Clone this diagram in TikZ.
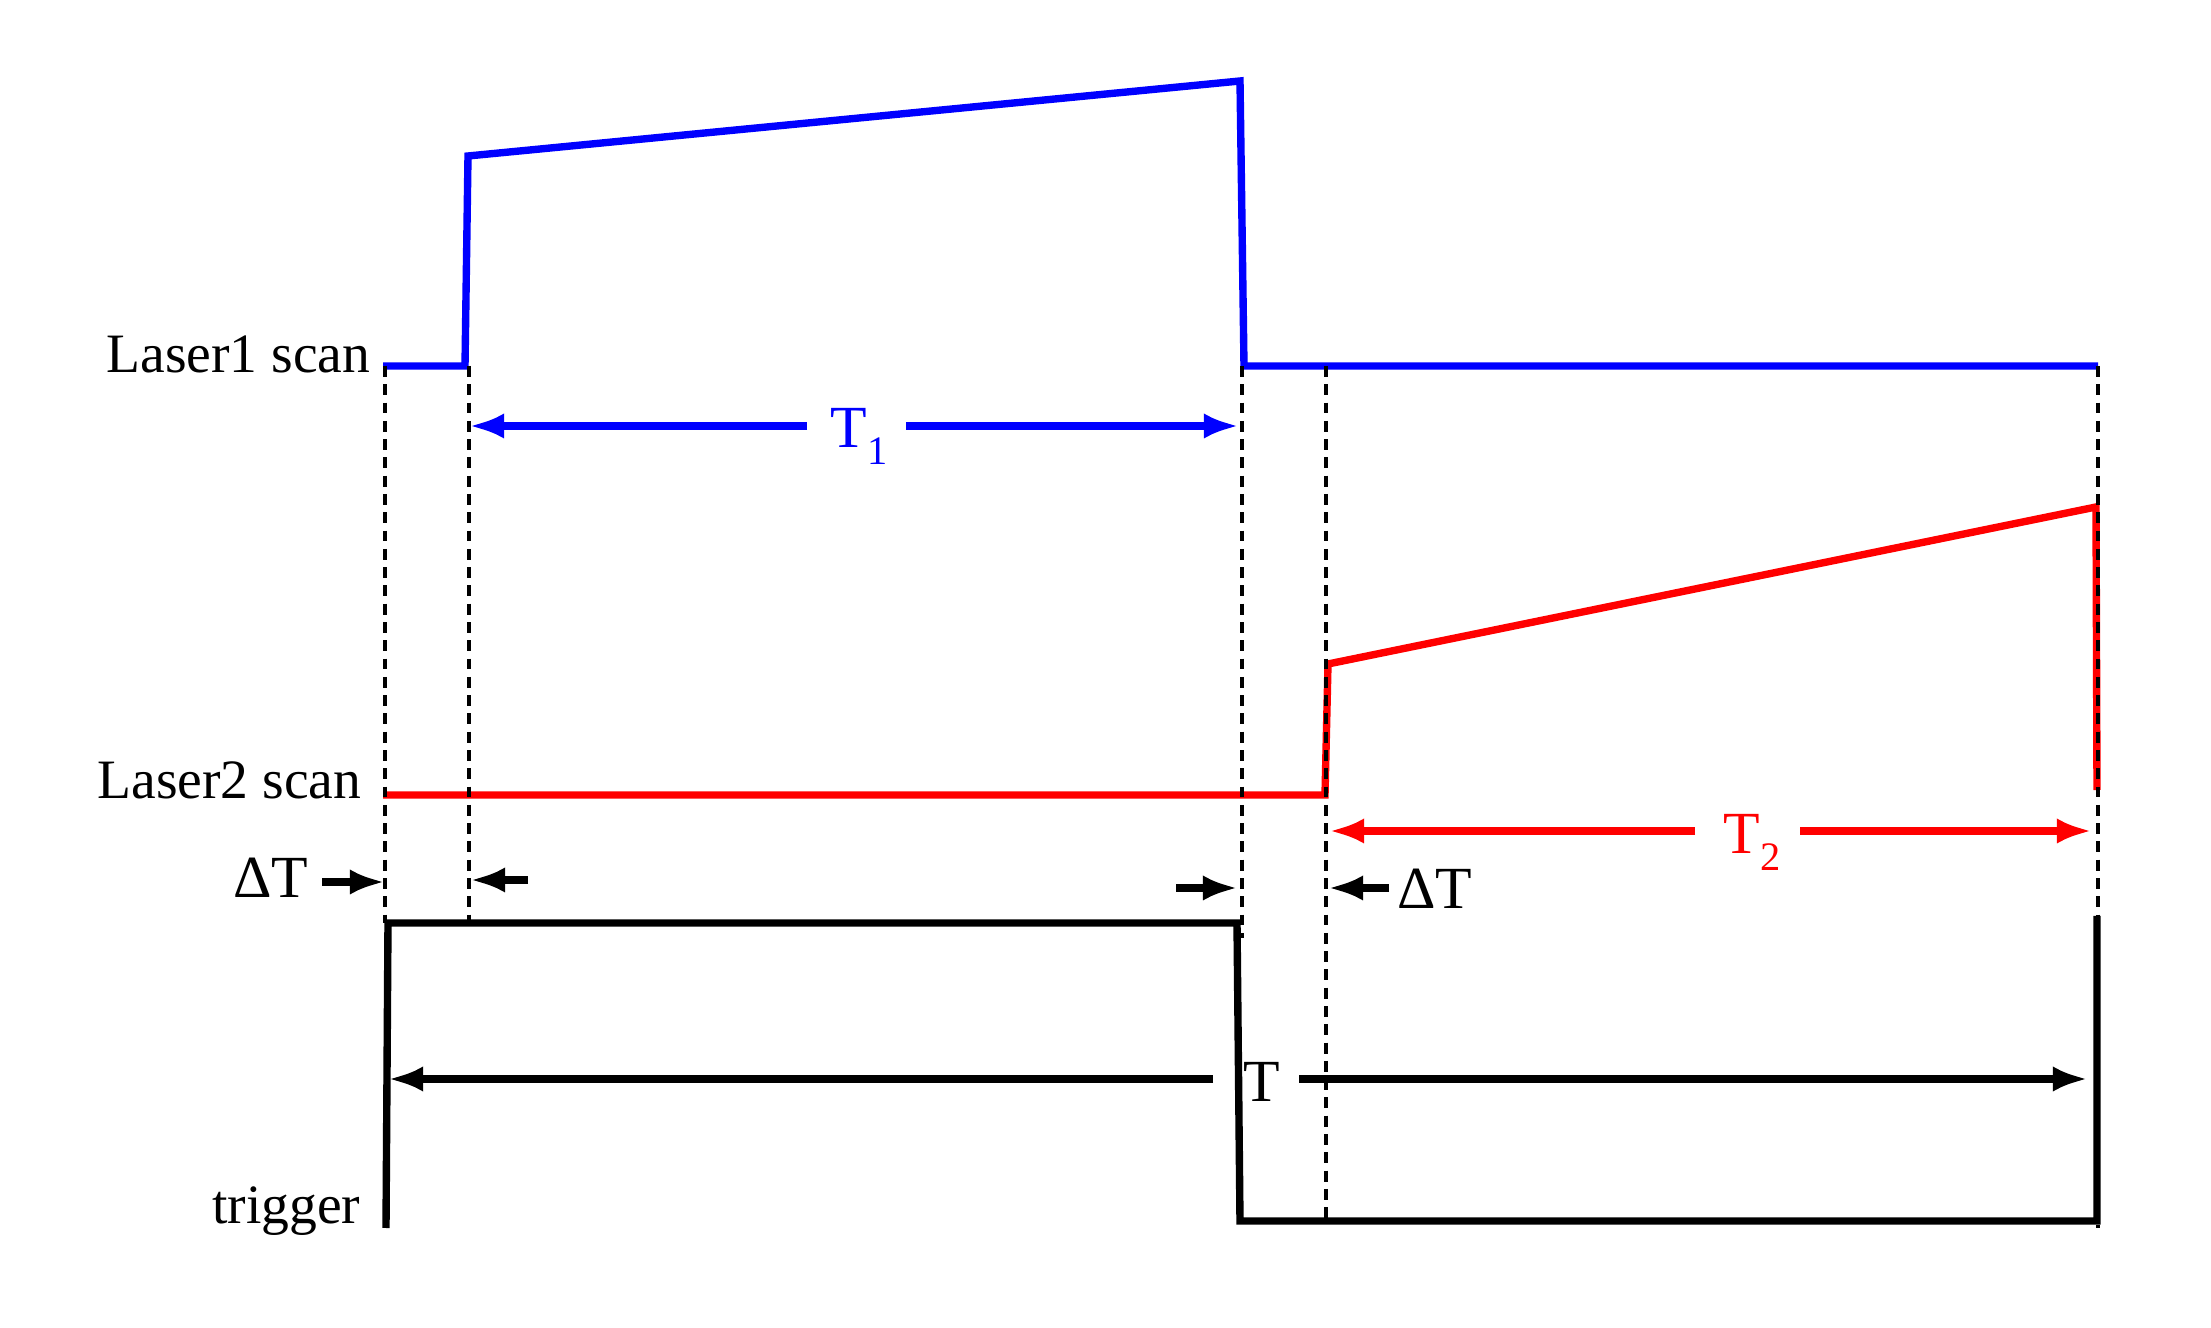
\documentclass[tikz,border=0pt]{standalone}
\usepackage{fontspec}
\setmainfont{Liberation Serif}
\usetikzlibrary{arrows.meta}
\newcommand{\mysub}[1]{\raisebox{-4.6pt}{\fontsize{11.5pt}{13pt}\selectfont #1}}
\begin{document}
\begin{tikzpicture}[x=0.01cm,y=-0.01cm,
  sig/.style={line width=2.1pt, line join=miter},
  guide/.style={line width=1.35pt, dash pattern=on 3.1pt off 2.1pt},
  dim/.style={line width=2pt, -{Latex[length=10pt,width=7.2pt]}},
  lbl/.style={font=\fontsize{15.8pt}{18pt}\selectfont, inner sep=0pt, anchor=base east},
  tl/.style={font=\fontsize{17pt}{20pt}\selectfont, inner sep=0pt, anchor=base}]
\useasboundingbox (0,0) rectangle (2211,1328);

% labels
\node[lbl] (l1) at (371,373) {Laser1 scan};
\node[lbl] (l2) at (362,799) {Laser2 scan};
\node[lbl] (l3) at (361,1223) {trigger};

% signals
\draw[sig, blue] (383,366) -- (465,366) -- (468,156) -- (1240,81) -- (1244,366) -- (2098,366);
\draw[sig, red] (383,795) -- (1325,795) -- (1328,664) -- (2096,507) -- (2097,790);
\draw[sig, black] (386,1228) -- (388,923) -- (1237,923) -- (1240,1221) -- (2097,1221) -- (2097,916);

% guides
\draw[guide] (385,366) -- (385,923);
\draw[guide] (469,366) -- (469,923);
\draw[guide] (1242,366) -- (1242,938);
\draw[guide] (1326,366) -- (1326,1221);
\draw[guide] (2098,366) -- (2098,1228);

% T1
\coordinate (t1l) at (807,426);
\coordinate (t1r) at (906,426);
\coordinate (t1a) at (469,426);
\coordinate (t1b) at (1239,426);
\draw[dim, blue] (t1l) -- (t1a);
\draw[dim, blue] (t1r) -- (t1b);
\node[tl, text=blue] (t1) at (859,448) {T\mysub{1}};

% T2
\coordinate (t2l) at (1695,831);
\coordinate (t2r) at (1800,831);
\coordinate (t2a) at (1329,831);
\coordinate (t2b) at (2092,831);
\draw[dim, red] (t2l) -- (t2a);
\draw[dim, red] (t2r) -- (t2b);
\node[tl, text=red] (t2) at (1752,854) {T\mysub{2}};

% T
\coordinate (tl) at (1213,1079);
\coordinate (tr) at (1299,1079);
\coordinate (ta) at (388,1079);
\coordinate (tb) at (2088,1079);
\draw[dim] (tl) -- (ta);
\draw[dim] (tr) -- (tb);
\node[tl] (tt) at (1262,1102) {T};

% Delta T left
\coordinate (d1s) at (322,882);
\coordinate (d1e) at (385,882);
\coordinate (d2s) at (528,880);
\coordinate (d2e) at (470,880);
\draw[dim] (d1s) -- (d1e);
\draw[dim] (d2s) -- (d2e);
\node[tl] (dt1) at (271,898) {ΔT};

% Delta T right
\coordinate (d3s) at (1176,888);
\coordinate (d3e) at (1238,888);
\coordinate (d4s) at (1389,888);
\coordinate (d4e) at (1328,888);
\draw[dim] (d3s) -- (d3e);
\draw[dim] (d4s) -- (d4e);
\node[tl] (dt2) at (1435,909) {ΔT};
\end{tikzpicture}
\end{document}
